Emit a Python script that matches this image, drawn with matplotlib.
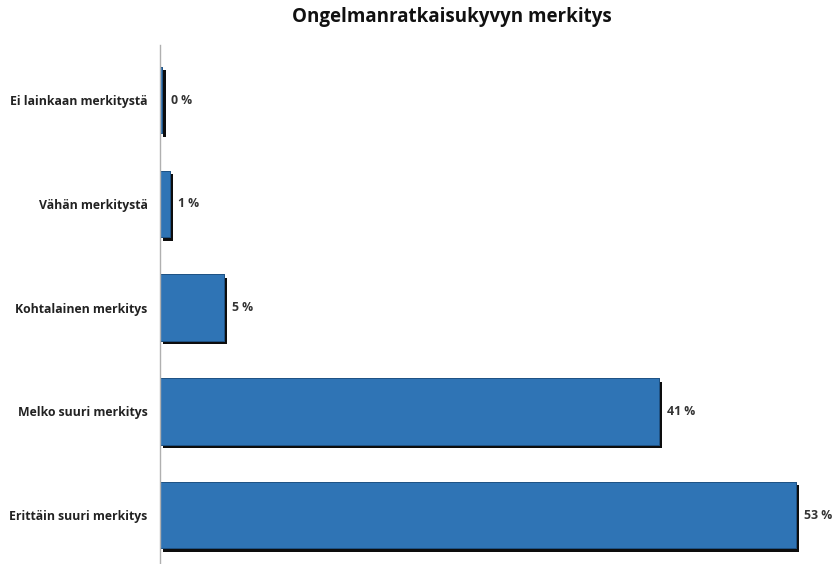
import matplotlib
matplotlib.use("Agg")
import matplotlib.pyplot as plt
import matplotlib.patheffects as pe

categories = ["Ei lainkaan merkitystä", "Vähän merkitystä", "Kohtalainen merkitys",
              "Melko suuri merkitys", "Erittäin suuri merkitys"]
values = [0.2, 0.8, 5.3, 41.6, 53.0]
labels = ["0 %", "1 %", "5 %", "41 %", "53 %"]
title = "Ongelmanratkaisukyvyn merkitys"

plt.rcParams['font.family'] = ['Open Sans', 'DejaVu Sans']

fig = plt.figure(figsize=(8.4, 5.64), dpi=100)
ax = fig.add_axes([160/840, 0.0, 1 - 160/840 - 0.02, 1 - 45/564])

ypos = list(range(len(categories)))
bars = ax.barh(ypos, values, height=0.64, color="#2f74b5", edgecolor="#1d4f80", linewidth=0.6)
for b in bars:
    b.set_path_effects([pe.withSimplePatchShadow(offset=(2.5, -2.5), shadow_rgbFace="black", alpha=0.95),
                        pe.Normal()])

for y, v, lab in zip(ypos, values, labels):
    ax.annotate(lab, (v, y), xytext=(6, 0), textcoords="offset points",
                va="center", ha="left", fontsize=8.8, fontweight="bold", color="#333333")

ax.set_xlim(0, 55.3)
ax.set_ylim(4.47, -0.53)
ax.set_yticks(ypos)
ax.set_yticklabels(categories, fontsize=8.8, fontweight="bold", color="#222222")
ax.tick_params(axis="y", length=0, pad=9)
ax.set_xticks([])
for s in ["top", "right", "bottom"]:
    ax.spines[s].set_visible(False)
ax.spines["left"].set_color("#b0b0b0")
ax.spines["left"].set_linewidth(1.0)

fig.text(452/840, 1 - 17/564, title, ha="center", va="center", fontsize=13.5,
         fontweight="bold", color="#111111")

fig.savefig("out.png", dpi=100)
